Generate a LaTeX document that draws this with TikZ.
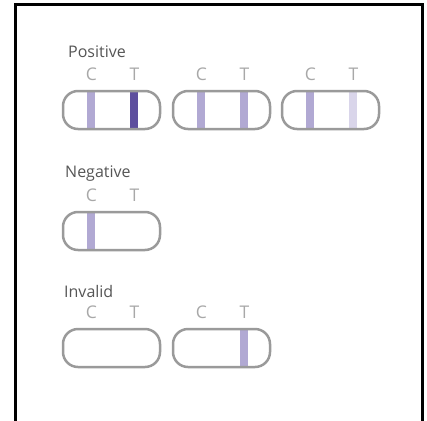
\documentclass[tikz,border=0pt]{standalone}
\usepackage{fontspec}
\setmainfont{Open Sans}
\definecolor{StripGray}{HTML}{9A9A9A}
\definecolor{BandLight}{HTML}{B1A9D3}
\definecolor{BandDark}{HTML}{5E4F9E}
\definecolor{BandFaint}{HTML}{D9D5EA}
\definecolor{HeadGray}{HTML}{555555}
\definecolor{LetterGray}{HTML}{A8A8A8}

\begin{document}
\begin{tikzpicture}[
    x=1pt, y=-1pt,
    heading/.style={anchor=base west, inner sep=0pt, color=HeadGray, font=\fontsize{16}{16}\selectfont},
    letter/.style={inner sep=0pt, color=LetterGray, font=\fontsize{17.5}{17.5}\selectfont},
    strip/.style={draw=StripGray, line width=2.5pt, rounded corners=15pt}
 ]
\def\stripW{97}
\def\stripH{38}
\def\bandW{8}
\def\cPos{27.5}
\def\tPos{70.5}

\useasboundingbox (0,0) rectangle (427,420);
\draw [line width=3pt] (15.5,421) -- (15.5,5) -- (422,5) -- (422,421);

% headings
\node[heading] (positive) at (68,57) {Positive};
\node[heading] (negative) at (65,177) {Negative};
\node[heading] (invalid) at (64,297) {Invalid};

% bands: left, top, colour of C, colour of T
    \foreach \x/\y/\cc/\tc in {63/91/BandLight/BandDark, 173/91/BandLight/BandLight, 282/91/BandLight/BandFaint,
                                63/212/BandLight/white, 63/329/white/white, 173/329/white/BandLight} {
        \fill [\cc] (\x+\cPos-\bandW/2,\y) rectangle (\x+\cPos+\bandW/2,\y+\stripH);
        \fill [\tc] (\x+\tPos-\bandW/2,\y) rectangle (\x+\tPos+\bandW/2,\y+\stripH);
        \draw [strip] (\x,\y) rectangle (\x+\stripW,\y+\stripH);
        \node[letter] (c-\x-\y) at (\x+\cPos+1,\y-17) {C};
        \node[letter] (t-\x-\y) at (\x+\tPos+1,\y-17) {T};
    }

\end{tikzpicture}
\end{document}
